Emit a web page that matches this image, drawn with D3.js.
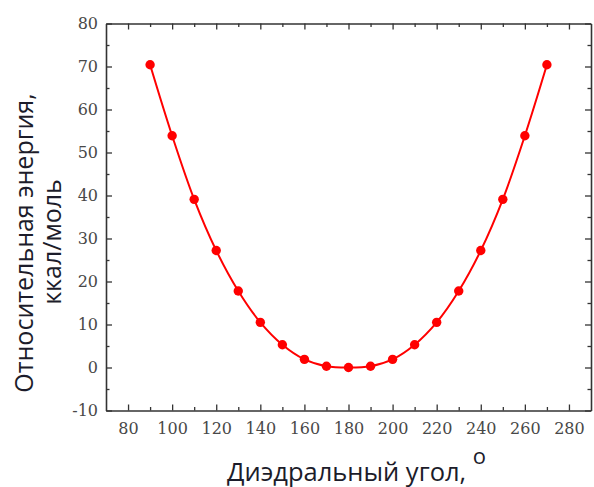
<!DOCTYPE html>
<html>
<head>
<meta charset="utf-8">
<script src="https://cdn.jsdelivr.net/npm/d3@7"></script>
<style>
  body { margin: 0; background: #fff; }
  .tick text { font-family: "DejaVu Serif", serif; font-size: 16px; fill: #484848; }
  .title { font-family: "Open Sans", sans-serif; fill: #1c1c2a; }
</style>
</head>
<body>
<div class="chart"></div>
<script>
// dihedral angle, degrees
var angles = [90, 100, 110, 120, 130, 140, 150, 160, 170, 180, 190, 200, 210, 220, 230, 240, 250, 260, 270];
// relative energy, kcal/mol
var energy = [70.4, 53.9, 39.1, 27.2, 17.8, 10.5, 5.3, 1.9, 0.3, 0, 0.3, 1.9, 5.3, 10.5, 17.8, 27.2, 39.1, 53.9, 70.4];

var xTicks = [80, 100, 120, 140, 160, 180, 200, 220, 240, 260, 280];
var xMinor = [90, 110, 130, 150, 170, 190, 210, 230, 250, 270];
var yTicks = [-10, 0, 10, 20, 30, 40, 50, 60, 70, 80];
var yMinor = [-5, 5, 15, 25, 35, 45, 55, 65, 75];

var width = 594;
var height = 487;
var margin = { top: 23.5, right: 3, bottom: 76.5, left: 106 };

var svg = d3
  .select(".chart")
  .append("svg")
  .attr("width", width)
  .attr("height", height);

var x = d3.scaleLinear().domain([70, 290]).range([margin.left, width - margin.right]);
var y = d3.scaleLinear().domain([-10, 80]).range([height - margin.bottom, margin.top]);

var axisColor = "#333";
var fmt = function (d) { return String(d); };

// major + minor tick marks on one side, pointing inward
function drawSide(axisFn, transform, scale, major, minor, labels, pad) {
  var g = svg.append("g").attr("transform", transform);
  g.call(axisFn(scale).tickValues(major).tickSize(-6).tickSizeOuter(0)
    .tickPadding(pad).tickFormat(labels ? fmt : ""));
  g.select(".domain").attr("stroke", axisColor).attr("stroke-width", 1.6);
  g.selectAll(".tick line").attr("stroke", axisColor).attr("stroke-width", 1.3);

  var m = svg.append("g").attr("transform", transform);
  m.call(axisFn(scale).tickValues(minor).tickSize(-3.5).tickFormat(""));
  m.select(".domain").remove();
  m.selectAll(".tick line").attr("stroke", axisColor).attr("stroke-width", 1.3);
}

drawSide(d3.axisBottom, "translate(0," + y(-10) + ")", x, xTicks, xMinor, true, 12);
drawSide(d3.axisLeft, "translate(" + x(70) + ",0)", y, yTicks, yMinor, true, 8);
drawSide(d3.axisTop, "translate(0," + y(80) + ")", x, xTicks, xMinor, false, 0);
drawSide(d3.axisRight, "translate(" + x(290) + ",0)", y, yTicks, yMinor, false, 0);

// curve and markers
var line = d3.line()
  .x(function (d, i) { return x(angles[i]); })
  .y(function (d) { return y(d); })
  .curve(d3.curveCatmullRom);

svg.append("path")
  .datum(energy)
  .attr("fill", "none")
  .attr("stroke", "#ff0000")
  .attr("stroke-width", 2)
  .attr("d", line);

svg.append("g")
  .selectAll("circle")
  .data(energy)
  .enter()
  .append("circle")
  .attr("cx", function (d, i) { return x(angles[i]); })
  .attr("cy", function (d) { return y(d); })
  .attr("r", 4.7)
  .attr("fill", "#ff0000");

// axis titles
var xTitle = svg.append("text")
  .attr("class", "title")
  .attr("x", 227)
  .attr("y", 481)
  .style("font-size", "25.5px");
xTitle.append("tspan").text("Диэдральный угол, ");
xTitle.append("tspan").attr("dy", -17).style("font-size", "22px").text("o");

svg.append("text")
  .attr("class", "title")
  .attr("transform", "translate(33,243) rotate(-90)")
  .attr("text-anchor", "middle")
  .style("font-size", "25px")
  .text("Относительная энергия,");

svg.append("text")
  .attr("class", "title")
  .attr("transform", "translate(61,242) rotate(-90)")
  .attr("text-anchor", "middle")
  .style("font-size", "25px")
  .text("ккал/моль");
</script>
</body>
</html>
